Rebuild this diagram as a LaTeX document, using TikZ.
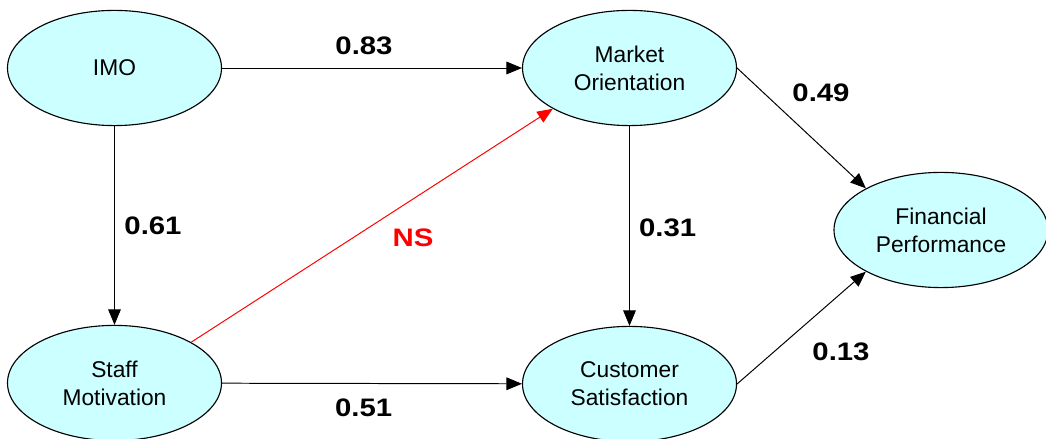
\documentclass[tikz,border=0pt]{standalone}
\usepackage{fontspec}
\setmainfont{Liberation Sans}
\newfontfamily\coeffont[FakeStretch=1.16]{Liberation Sans}
\usetikzlibrary{shapes.geometric,arrows.meta}
\definecolor{bubble}{HTML}{CCFFFF}

\begin{document}
\begin{tikzpicture}[
    construct/.style={ellipse, draw, line width=0.8pt, fill=bubble, minimum width=5.35cm, minimum height=2.88cm, align=center, inner sep=0pt, font=\fontsize{16.2}{20}\selectfont},
    path/.style={-{Triangle[length=11pt,width=9pt]}, line width=0.7pt},
    coef/.style={font=\coeffont\fontsize{18}{20}\selectfont\bfseries}
  ]
  \useasboundingbox (0,0) rectangle (26.15,10.975);

  \node[construct] (imo) at (2.8625,9.275) {IMO};
  \node[construct] (sm) at (2.8625,1.4) {Staff\\Motivation};
  \node[construct] (mo) at (15.7375,9.275) {Market\\Orientation};
  \node[construct] (cs) at (15.7375,1.375) {Customer\\Satisfaction};
  \node[construct] (fp) at (23.525,5.225) {Financial\\Performance};

  \draw[path] (imo) -- (mo);
  \draw[path] (imo) -- (sm);
  \draw[path] (mo) -- (cs);
  \draw[path] (sm) -- (cs);
  \draw[path, red] (sm.28) -- (mo.208);
  \draw[path] (mo.east) -- (fp.151);
  \draw[path] (cs.east) -- (fp.209);

  \node[coef] (c1) at (9.1,9.825) {0.83};
  \node[coef] (c2) at (3.825,5.325) {0.61};
  \node[coef, red] (c3) at (10.325,5.025) {NS};
  \node[coef] (c4) at (16.69,5.275) {0.31};
  \node[coef] (c5) at (20.525,8.65) {0.49};
  \node[coef] (c6) at (9.09,0.775) {0.51};
  \node[coef] (c7) at (21.025,2.175) {0.13};
\end{tikzpicture}
\end{document}
